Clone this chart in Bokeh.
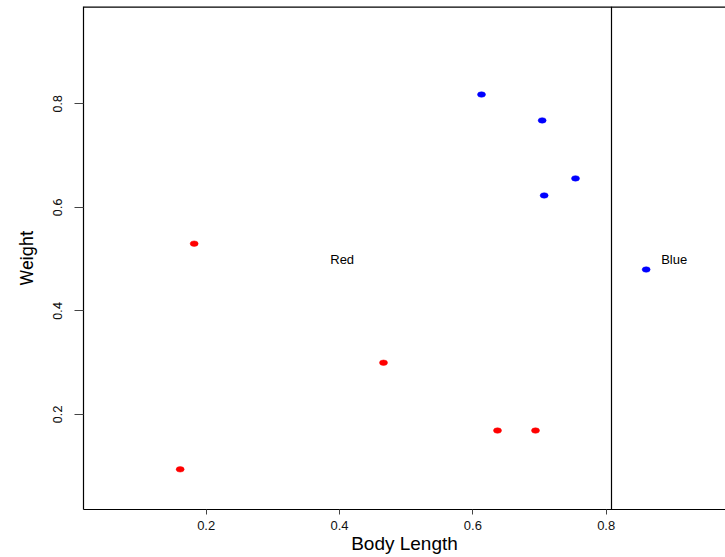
from bokeh.plotting import figure
from bokeh.models import Span, FixedTicker, ColumnDataSource
from bokeh.core.properties import value
from bokeh.embed import file_html
from bokeh.resources import INLINE

# data
red_x = [0.161, 0.182, 0.466, 0.637, 0.694]
red_y = [0.094, 0.530, 0.300, 0.169, 0.169]
blue_x = [0.613, 0.704, 0.754, 0.707, 0.860]
blue_y = [0.818, 0.768, 0.656, 0.623, 0.480]
label_text = ["Red", "Blue"]
label_x = [0.404, 0.902]
label_y = [0.500, 0.500]
divider_x = 0.808
x_ticks = [0.2, 0.4, 0.6, 0.8]
y_ticks = [0.2, 0.4, 0.6, 0.8]

# frame: left 83, right 725, top 6, bottom 509
x_start, x_end = 0.016, 0.979
y_start, y_end = 0.0165, 0.988

p = figure(width=725, height=557, output_backend="svg", toolbar_location=None,
           x_range=(x_start, x_end), y_range=(y_start, y_end),
           min_border_left=83, min_border_right=0, min_border_top=6, min_border_bottom=48)
p.outline_line_color = None
p.grid.visible = False
p.background_fill_color = "white"
p.border_fill_color = "white"

red_src = ColumnDataSource(dict(x=red_x, y=red_y))
blue_src = ColumnDataSource(dict(x=blue_x, y=blue_y))
p.ellipse(x="x", y="y", width=8, height=5.5, width_units="screen", height_units="screen",
          source=red_src, fill_color="#FF0000", line_color="#FF0000", line_width=0.5)
p.ellipse(x="x", y="y", width=8, height=5.5, width_units="screen", height_units="screen",
          source=blue_src, fill_color="#0000FF", line_color="#0000FF", line_width=0.5)

lab_src = ColumnDataSource(dict(x=label_x, y=label_y, t=label_text))
p.text(x="x", y="y", text="t", source=lab_src, text_font=value("Liberation Sans"),
       text_font_size="13px", text_align="center", text_baseline="middle", text_color="black")

p.add_layout(Span(location=divider_x, dimension="height", line_color="black", line_width=1.2))
p.add_layout(Span(location=y_end, dimension="width", line_color="black", line_width=2.4))

# x axis
xa = p.xaxis[0]
xa.ticker = FixedTicker(ticks=x_ticks)
xa.axis_label = "Body Length"
xa.axis_label_text_font = "Liberation Sans"
xa.axis_label_text_font_style = "normal"
xa.axis_label_text_font_size = "19px"
xa.axis_label_text_color = "black"
xa.axis_label_standoff = 0
xa.major_label_text_font = "Liberation Sans"
xa.major_label_text_font_size = "13px"
xa.major_label_text_color = "#111111"
xa.major_label_standoff = 6
xa.major_tick_out = 5
xa.major_tick_in = 0
xa.minor_tick_line_color = None
xa.axis_line_color = "black"
xa.axis_line_width = 1.2
xa.major_tick_line_color = "#444444"

# y axis
ya = p.yaxis[0]
ya.ticker = FixedTicker(ticks=y_ticks)
ya.axis_label = "Weight"
ya.axis_label_text_font = "Roboto"
ya.axis_label_text_font_style = "normal"
ya.axis_label_text_font_size = "18px"
ya.axis_label_text_color = "black"
ya.axis_label_standoff = 14
ya.major_label_text_font = "Roboto"
ya.major_label_text_font_size = "13px"
ya.major_label_text_color = "#111111"
ya.major_label_orientation = "vertical"
ya.major_label_standoff = 12
ya.major_tick_out = 9
ya.major_tick_in = 0
ya.minor_tick_line_color = None
ya.axis_line_color = "black"
ya.axis_line_width = 1.2
ya.major_tick_line_color = "#444444"

open("out.html", "w").write(file_html(p, INLINE))
